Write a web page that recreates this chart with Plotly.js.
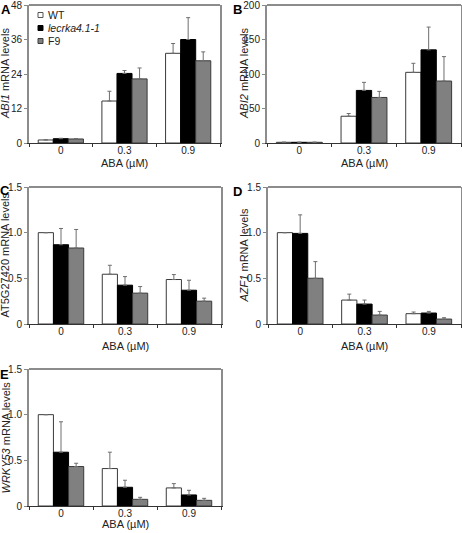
<!DOCTYPE html>
<html><head><meta charset="utf-8">
<script src="https://cdn.plot.ly/plotly-3.0.1.min.js"></script>
<style>html,body{margin:0;padding:0;background:#fff}#chart{width:462px;height:533px}</style>
</head><body><div id="chart"></div>
<script>
// ---- data ----
const categories = ["0", "0.3", "0.9"];
const seriesNames = ["WT", "lecrka4.1-1", "F9"];
const legendLabels = ["WT", "<i>lecrka4.1-1</i>", "F9"];

// A: ABI1
const abi1WT = [1.05, 14.6, 31.2];
const abi1WTErr = [0.1, 3.4, 3.4];
const abi1Lec = [1.5, 24.2, 36.0];
const abi1LecErr = [0.15, 1.0, 7.6];
const abi1F9 = [1.4, 22.3, 28.6];
const abi1F9Err = [0.15, 3.8, 3.1];

// B: ABI2
const abi2WT = [1.0, 38.8, 102.4];
const abi2WTErr = [0.2, 3.9, 13.1];
const abi2Lec = [1.0, 76.2, 135.0];
const abi2LecErr = [0.2, 11.7, 33.0];
const abi2F9 = [1.0, 66.0, 89.8];
const abi2F9Err = [0.2, 8.8, 35.4];

// C: AT5G27420
const at5WT = [1.0, 0.545, 0.487];
const at5WTErr = [0, 0.098, 0.054];
const at5Lec = [0.868, 0.425, 0.37];
const at5LecErr = [0.178, 0.094, 0.109];
const at5F9 = [0.832, 0.338, 0.25];
const at5F9Err = [0.203, 0.072, 0.033];

// D: AZF1
const azf1WT = [1.0, 0.262, 0.113];
const azf1WTErr = [0, 0.065, 0.018];
const azf1Lec = [0.992, 0.218, 0.12];
const azf1LecErr = [0.203, 0.044, 0.018];
const azf1F9 = [0.501, 0.098, 0.054];
const azf1F9Err = [0.182, 0.04, 0.015];

// E: WRKY53
const wrkyWT = [1.0, 0.41, 0.198];
const wrkyWTErr = [0, 0.179, 0.047];
const wrkyLec = [0.589, 0.205, 0.121];
const wrkyLecErr = [0.333, 0.077, 0.051];
const wrkyF9 = [0.432, 0.073, 0.062];
const wrkyF9Err = [0.036, 0.022, 0.022];

const yTitles = ["<i>ABI1</i> mRNA levels", "<i>ABI2</i> mRNA levels", "AT5G27420 mRNA levels",
                 "<i>AZF1</i> mRNA levels", "<i>WRKY53</i> mRNA levels"];
const panelLetters = ["A", "B", "C", "D", "E"];
const xTitle = "ABA (µM)";

const ticksA = [0, 12, 24, 36, 48];
const ticksB = [0, 50, 100, 150, 200];
const ticksSmall = [0, 0.5, 1.0, 1.5];
const ticksSmallText = ["0", "0.5", "1.0", "1.5"];

// ---- styles / layout ----
const W = 462, H = 533;
const px = v => v / W;
const py = v => 1 - v / H;
const FONT = "Liberation Sans, Arial, sans-serif";

const fills = ["#ffffff", "#000000", "#808080"];
const outlines = ["#3a3a3a", "#000000", "#3a3a3a"];
const errColor = "#6e6e6e";

const panelData = [
  [[abi1WT, abi1WTErr], [abi1Lec, abi1LecErr], [abi1F9, abi1F9Err]],
  [[abi2WT, abi2WTErr], [abi2Lec, abi2LecErr], [abi2F9, abi2F9Err]],
  [[at5WT, at5WTErr], [at5Lec, at5LecErr], [at5F9, at5F9Err]],
  [[azf1WT, azf1WTErr], [azf1Lec, azf1LecErr], [azf1F9, azf1F9Err]],
  [[wrkyWT, wrkyWTErr], [wrkyLec, wrkyLecErr], [wrkyF9, wrkyF9Err]]
];
const yRanges = [[0, 48], [0, 200], [0, 1.5], [0, 1.5], [0, 1.5]];
const yTickVals = [ticksA, ticksB, ticksSmall, ticksSmall, ticksSmall];
const yTickText = [ticksA.map(String), ticksB.map(String), ticksSmallText, ticksSmallText, ticksSmallText];

// pixel boxes [left, right, top, bottom]
const boxes = [
  [29, 220, 5, 143],
  [267, 461, 5, 143],
  [29, 221, 187, 324],
  [268, 461, 187, 324],
  [29, 221, 369, 506]
];
const yTitleX = [5, 244, 5, 244, 5];
const xTitleY = [162.5, 163, 346, 346, 524];
const letterPos = [[6, 10], [237, 10], [4.5, 190], [237, 191], [4, 374]];

const traces = [];
const layout = {
  width: W, height: H,
  margin: {l: 0, r: 0, t: 0, b: 0},
  paper_bgcolor: "#fff", plot_bgcolor: "#fff",
  showlegend: false,
  barmode: "group", bargap: 0.29, bargroupgap: 0,
  font: {family: FONT, size: 11, color: "#222"},
  annotations: [], shapes: []
};

panelData.forEach((series, p) => {
  const sfx = p === 0 ? "" : String(p + 1);
  series.forEach(([vals, errs], s) => {
    traces.push({
      type: "bar", name: seriesNames[s], x: categories, y: vals,
      xaxis: "x" + sfx, yaxis: "y" + sfx,
      marker: {color: fills[s], line: {color: outlines[s], width: 1}},
      error_y: {type: "data", symmetric: false, array: errs, arrayminus: errs.map(() => 0),
                color: errColor, thickness: 1, width: 2},
      hoverinfo: "skip"
    });
  });
  const [l, r, t, b] = boxes[p];
  layout["xaxis" + sfx] = {
    domain: [px(l), px(r)], anchor: "y" + sfx, type: "category",
    range: [-0.5, 2.5], tickson: "boundaries", ticks: "outside", ticklen: 3,
    tickcolor: "#333", showline: true, linecolor: "#333", linewidth: 1,
    showgrid: false, zeroline: false, tickfont: {size: 10, color: "#222"},
    ticklabelstandoff: -2,
    ticklabeloverflow: "allow", fixedrange: true
  };
  layout["yaxis" + sfx] = {
    domain: [py(b), py(t)], anchor: "x" + sfx, range: yRanges[p],
    tickvals: yTickVals[p], ticktext: yTickText[p],
    ticks: "outside", ticklen: 3, tickcolor: "#888",
    showline: true, linecolor: "#8c8c8c", linewidth: 2, mirror: true,
    showgrid: false, zeroline: false, tickfont: {size: 10, color: "#222"},
    ticklabeloverflow: "allow", fixedrange: true
  };
  layout.shapes.push({type: "line", xref: "x" + sfx + " domain", yref: "y" + sfx + " domain",
    x0: 0, x1: 1, y0: 1, y1: 1, line: {color: "#8c8c8c", width: 2}});
  layout.annotations.push({
    text: yTitles[p], textangle: -90, xref: "paper", yref: "paper",
    x: px(yTitleX[p]), y: py((t + b) / 2), xanchor: "center", yanchor: "middle",
    showarrow: false, font: {size: 11, color: "#222"}
  });
  layout.annotations.push({
    text: xTitle, xref: "paper", yref: "paper",
    x: px((l + r) / 2), y: py(xTitleY[p]), xanchor: "center", yanchor: "middle",
    showarrow: false, font: {size: 11, color: "#222"}
  });
  layout.annotations.push({
    text: "<b>" + panelLetters[p] + "</b>", xref: "paper", yref: "paper",
    x: px(letterPos[p][0]), y: py(letterPos[p][1]), xanchor: "center", yanchor: "middle",
    showarrow: false, font: {size: 13, color: "#000"}
  });
});

// legend for panel A (built from series names/colours)
const legY = [15, 28, 41];
legendLabels.forEach((lab, s) => {
  layout.shapes.push({type: "rect", xref: "paper", yref: "paper",
    x0: px(38), x1: px(43), y0: py(legY[s] + 2.5), y1: py(legY[s] - 2.5),
    fillcolor: fills[s], line: {color: s === 0 ? "#555" : outlines[s], width: 1}});
  layout.annotations.push({text: lab, xref: "paper", yref: "paper",
    x: px(46), y: py(legY[s]), xanchor: "left", yanchor: "middle",
    showarrow: false, font: {size: 10.5, color: "#222"}});
});

Plotly.newPlot("chart", traces, layout, {displayModeBar: false, staticPlot: true});
</script>
</body></html>
